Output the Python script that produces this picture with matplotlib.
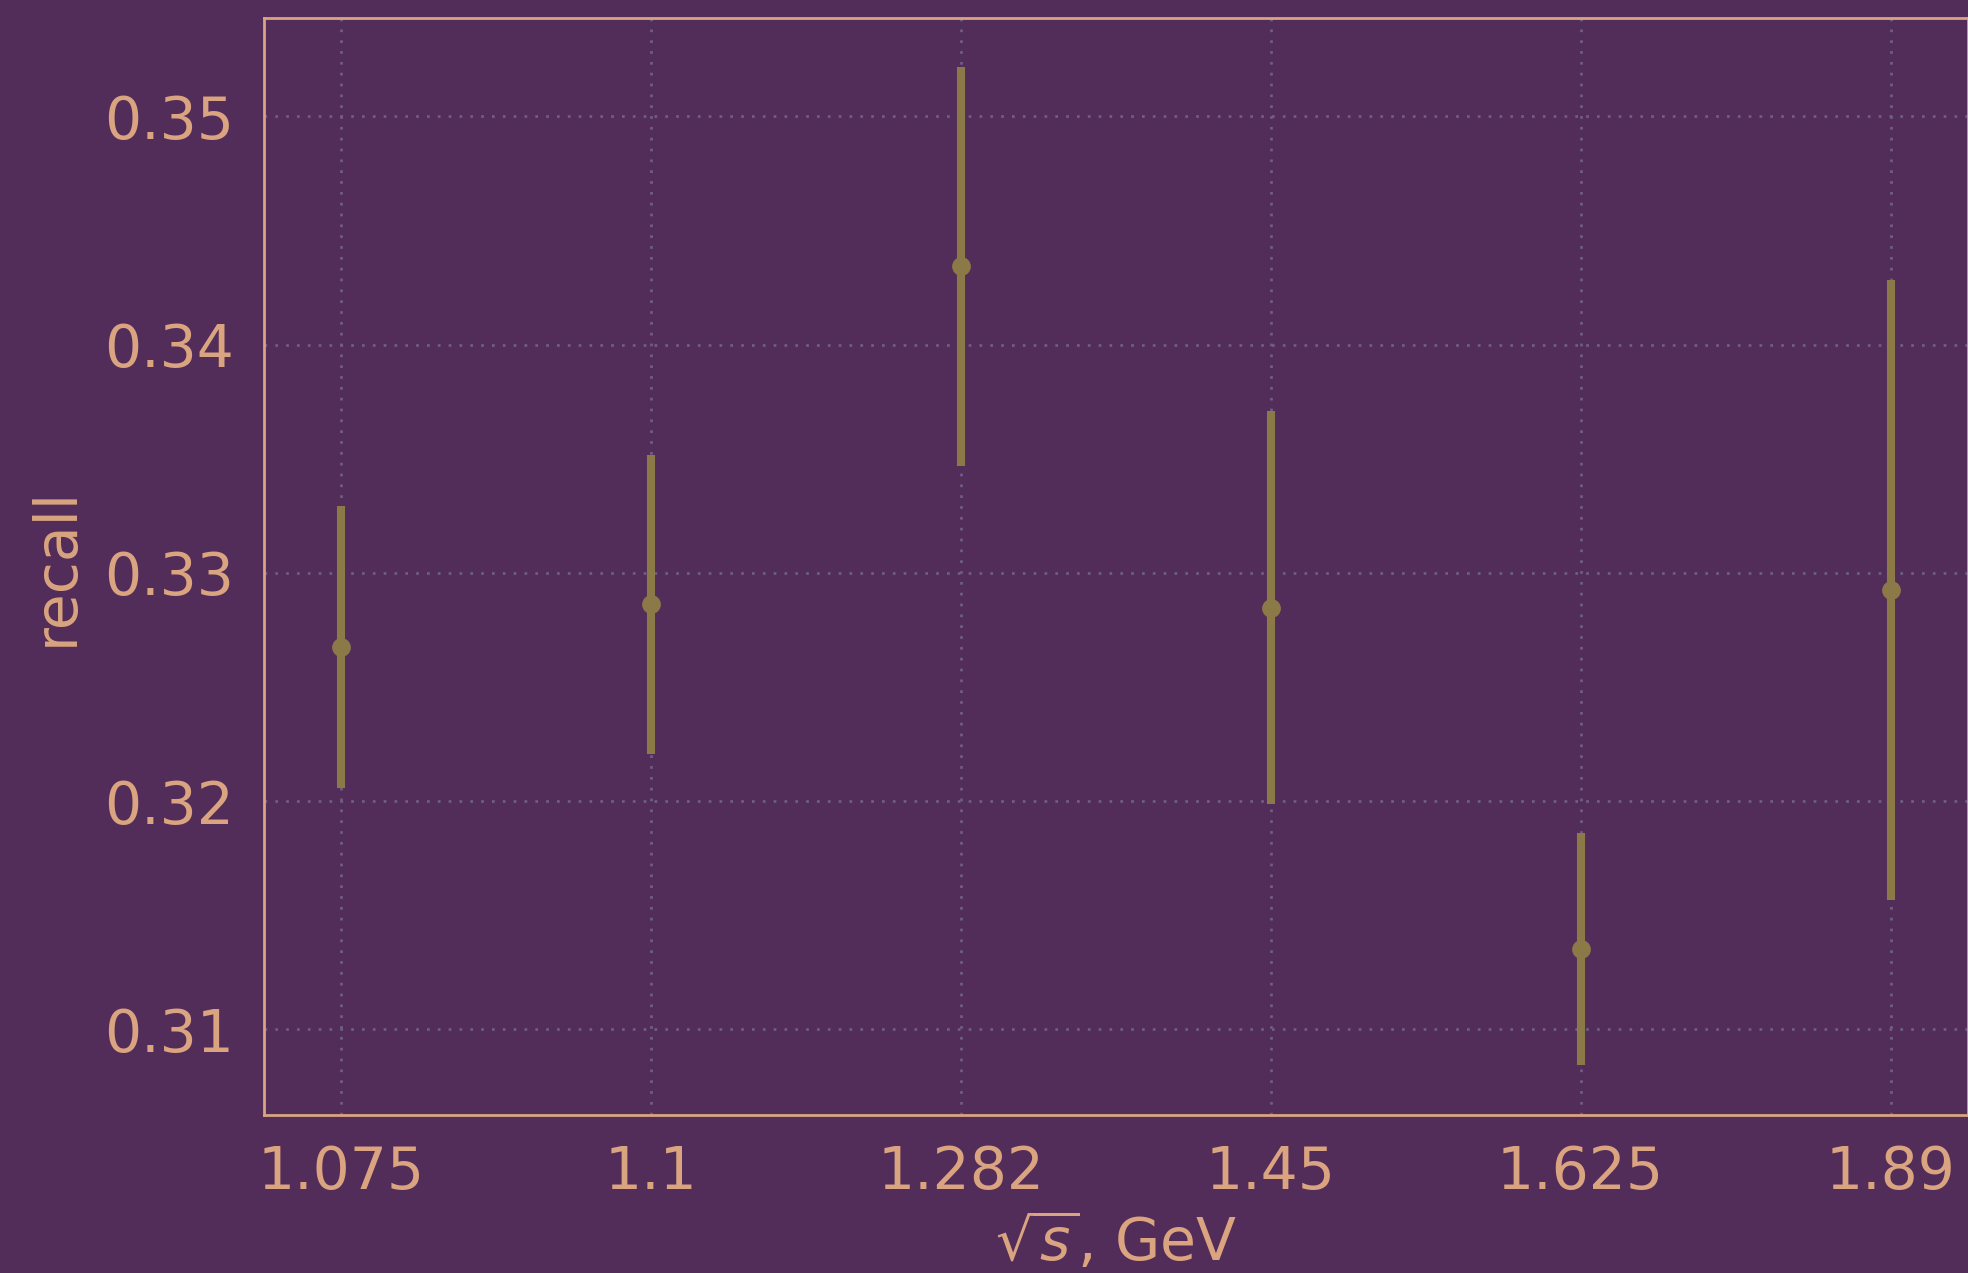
import numpy as np
import matplotlib
matplotlib.use("Agg")
import matplotlib.pyplot as plt

# ---- data ----
energies = ["1.075", "1.1", "1.282", "1.45", "1.625", "1.89"]
recall = [0.32674, 0.32862, 0.34342, 0.32848, 0.31353, 0.32925]
recall_err = [0.00617, 0.00654, 0.00872, 0.00859, 0.00507, 0.01357]

# ---- colours ----
bg = "#532d5a"
fg = "#d9a47f"
pt = "#8b7a48"
grid_c = "#6f5f82"

plt.rcParams["font.family"] = ["DejaVu Sans"]
plt.rcParams["mathtext.fontset"] = "dejavusans"

fig = plt.figure(figsize=(19.68, 12.73), dpi=100, facecolor=bg)
ax = fig.add_axes([263.5 / 1968, 1 - 1114.5 / 1273, 1 - 263.5 / 1968, (1114.5 - 17.5) / 1273])
ax.set_facecolor(bg)

ax.errorbar(energies, recall, yerr=recall_err, fmt="o", color=pt, ecolor=pt,
            elinewidth=5.8, markersize=13.5, markeredgewidth=0, capsize=0, zorder=3)

ax.set_axisbelow(True)
ax.grid(True, color=grid_c, linestyle=(0, (1, 3)), linewidth=1.95)

for s in ax.spines.values():
    s.set_color(fg)
    s.set_linewidth(2)

ax.tick_params(axis="both", length=0, labelsize=42, colors=fg, pad=21)
ax.set_yticks([0.31, 0.32, 0.33, 0.34, 0.35])
ax.set_yticklabels(["0.31", "0.32", "0.33", "0.34", "0.35"])

ax.set_xlabel(r"$\sqrt{s}$, GeV", fontsize=42, color=fg, labelpad=8)
ax.set_ylabel("recall", fontsize=42, color=fg, labelpad=14)

fig.savefig("out.png", dpi=100, facecolor=bg)
